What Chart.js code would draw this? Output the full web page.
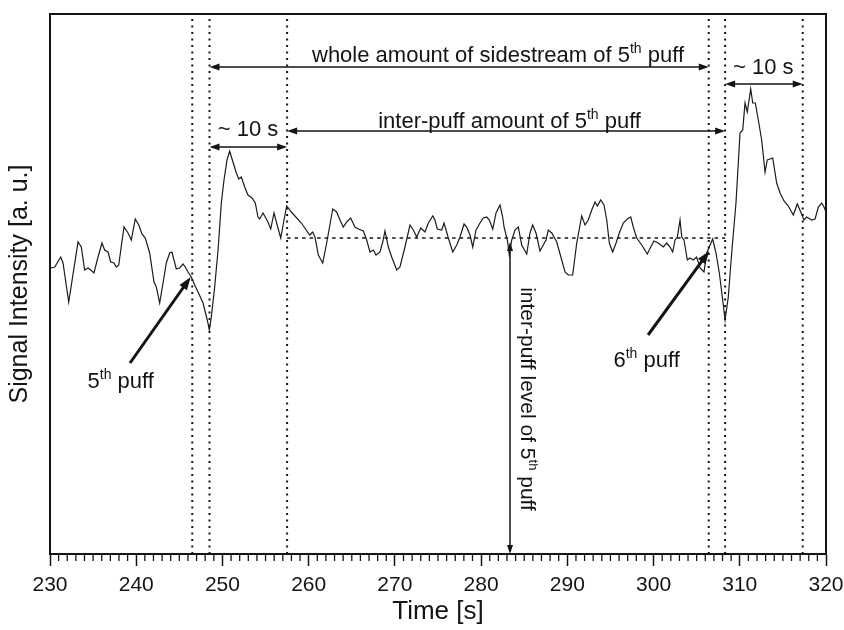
<!DOCTYPE html>
<html>
<head>
<meta charset="utf-8">
<style>
  html, body { margin: 0; padding: 0; background: #fff; }
  canvas { display: block; }
</style>
<script src="https://cdn.jsdelivr.net/npm/chart.js@4.4.0/dist/chart.umd.min.js"></script>
</head>
<body>
<canvas id="c" width="844" height="630"></canvas>
<script>
// Time axis [s] and signal intensity [a. u.] of the sidestream trace
const times = [230.08,230.55,231.24,231.51,232.17,233.25,233.63,234.02,234.41,234.72,235.10,235.57,236.03,236.34,236.73,237.04,237.42,237.69,237.97,238.58,239.05,239.43,239.89,240.29,240.67,241.05,241.56,242.06,242.33,242.72,243.11,243.49,243.88,244.15,244.38,244.65,245.04,245.43,245.69,246.01,246.39,246.78,247.17,247.75,248.24,248.48,248.71,249.10,249.49,249.87,250.18,250.53,250.84,251.22,251.61,251.89,252.19,252.58,252.96,253.43,253.81,254.12,254.32,254.70,255.28,255.60,255.98,256.44,256.76,257.14,257.45,257.99,259.15,260.12,
  260.47,260.73,261.12,261.63,262.09,262.79,263.25,263.63,264.02,264.41,264.87,265.37,265.76,266.34,266.73,267.11,267.50,267.81,268.27,268.59,268.85,269.24,269.63,270.21,270.59,271.17,271.75,272.14,272.53,272.99,273.49,273.88,274.39,274.65,274.92,275.43,275.70,276.20,276.71,277.17,277.55,278.02,278.33,278.71,279.03,279.41,279.87,280.25,280.65,280.95,281.35,281.73,282.19,282.50,282.66,283.04,283.27,283.55,283.93,284.31,284.71,285.29,285.67,285.98,286.37,286.83,287.21,287.53,287.79,288.19,288.77,289.35,289.73,290.11,
  290.62,291.09,291.67,292.05,292.43,292.83,293.21,293.48,293.87,294.25,294.57,294.87,295.26,295.65,296.03,296.49,296.96,297.35,297.65,298.05,298.63,299.28,299.67,300.05,300.55,301.13,301.53,301.91,302.22,302.49,302.76,303.07,303.27,303.53,303.92,304.23,304.61,305.00,305.39,305.85,306.16,306.86,307.24,307.63,308.02,308.29,308.67,309.06,309.56,310.03,310.34,310.61,310.87,311.27,311.50,311.80,312.15,312.54,312.93,313.19,313.82,314.28,314.67,315.13,315.63,316.21,316.67,317.07,317.45,317.76,318.34,318.73,319.11,319.50,319.77,320.00];

const signal = [286,287,297,291,252,312,307,284,286,284,281,297,311,304,302,292,291,287,289,327,321,314,335,329,320,316,301,272,267,251,271,291,301,302,294,285,286,290,287,282,277,269,262,251,234,224,237,267,304,351,374,394,403,392,381,375,377,367,359,356,351,337,335,341,332,325,341,326,316,334,348,342,331,319,
  322,317,299,291,311,345,342,334,327,332,336,327,325,323,314,302,304,299,302,312,323,307,297,284,287,307,329,324,317,326,322,331,338,334,325,324,331,316,302,309,317,330,327,319,307,324,331,336,337,334,325,341,349,337,327,314,299,314,324,327,309,300,321,329,321,303,309,314,324,321,312,294,282,279,
  279,311,338,329,334,344,352,348,354,349,334,311,302,311,321,331,335,337,327,316,309,300,307,313,311,307,311,307,302,314,317,334,317,314,294,296,294,297,286,282,301,315,301,281,254,234,257,301,351,421,424,451,442,465,451,451,434,414,382,394,396,371,361,353,348,339,350,342,334,337,334,335,347,351,347,342];

// Puff boundary times [s] (dotted verticals)
const markerTimes = [246.5, 248.5, 257.5, 306.4, 308.3, 317.3];
// Inter-puff level and the interval it is averaged over
const interPuffLevel = 316;
const interPuffSpan = [257.5, 308.3];

const tickLabels = [230, 240, 250, 260, 270, 280, 290, 300, 310, 320];

const INK = '#141414';
const FAMILY = '"Liberation Sans", Arial, Helvetica, sans-serif';

// Text with optional superscript pieces, e.g. 5 + "th"
function richText(ctx, parts, x, y, size, align) {
  const base = size + 'px ' + FAMILY;
  const sup = Math.round(size * 0.62) + 'px ' + FAMILY;
  let total = 0;
  const widths = parts.map(p => {
    ctx.font = p.sup ? sup : base;
    const w = ctx.measureText(p.t).width;
    total += w;
    return w;
  });
  let cx = align === 'center' ? x - total / 2 : x;
  ctx.textAlign = 'left';
  ctx.textBaseline = 'alphabetic';
  parts.forEach((p, i) => {
    ctx.font = p.sup ? sup : base;
    ctx.fillText(p.t, cx, p.sup ? y - size * 0.42 : y);
    cx += widths[i];
  });
}

function arrow(ctx, x1, y1, x2, y2, o) {
  const w = o.w || 1.5, len = o.len || 10, half = o.half || 3.5;
  const start = !!o.start, end = o.end !== false;
  const dx = x2 - x1, dy = y2 - y1, L = Math.hypot(dx, dy);
  const ux = dx / L, uy = dy / L;
  let sx = x1, sy = y1, ex = x2, ey = y2;
  if (start) { sx += ux * len * 0.8; sy += uy * len * 0.8; }
  if (end) { ex -= ux * len * 0.8; ey -= uy * len * 0.8; }
  ctx.lineWidth = w;
  ctx.setLineDash([]);
  ctx.beginPath(); ctx.moveTo(sx, sy); ctx.lineTo(ex, ey); ctx.stroke();
  const head = (tx, ty, vx, vy) => {
    ctx.beginPath();
    ctx.moveTo(tx, ty);
    ctx.lineTo(tx - vx * len - vy * half, ty - vy * len + vx * half);
    ctx.lineTo(tx - vx * len + vy * half, ty - vy * len - vx * half);
    ctx.closePath();
    ctx.fill();
  };
  if (end) head(x2, y2, ux, uy);
  if (start) head(x1, y1, -ux, -uy);
}

const annotations = {
  id: 'annotations',
  afterDatasetsDraw(chart) {
    const { ctx, chartArea: a, scales: { x, y } } = chart;
    const X = v => x.getPixelForValue(v);
    const Y = v => y.getPixelForValue(v);
    ctx.save();
    ctx.strokeStyle = INK;
    ctx.fillStyle = INK;

    // top and right frame
    ctx.lineWidth = 2;
    ctx.beginPath();
    ctx.moveTo(a.left - 1, a.top);
    ctx.lineTo(a.right, a.top);
    ctx.lineTo(a.right, a.bottom);
    ctx.stroke();

    // minor ticks every second
    ctx.lineWidth = 1.3;
    ctx.beginPath();
    for (let t = 231; t < 320; t++) {
      if (t % 10 === 0) continue;
      const px = X(t);
      ctx.moveTo(px, a.bottom);
      ctx.lineTo(px, a.bottom + 7);
    }
    ctx.stroke();

    // span arrows
    arrow(ctx, X(248.5), Y(487), X(306.4), Y(487), { start: true });
    arrow(ctx, X(257.5), Y(423), X(308.3), Y(423), { start: true });
    arrow(ctx, X(248.5), Y(407), X(257.5), Y(407), { start: true });
    arrow(ctx, X(308.3), Y(470), X(317.3), Y(470), { start: true });
    // inter-puff level arrow
    arrow(ctx, X(283.35), Y(312), X(283.35), Y(0), { start: true, len: 9, half: 3 });
    // puff pointers
    arrow(ctx, X(239.28), Y(191), X(246.32), Y(277), { w: 3, len: 13, half: 4.5 });
    arrow(ctx, X(299.36), Y(219), X(306.47), Y(303), { w: 3, len: 13, half: 4.5 });

    const S = 22;
    richText(ctx, [{ t: 'whole amount of sidestream of 5' }, { t: 'th', sup: true }, { t: ' puff' }], X(281.96), Y(492), S, 'center');
    richText(ctx, [{ t: 'inter-puff amount of 5' }, { t: 'th', sup: true }, { t: ' puff' }], X(283.3), Y(426), S, 'center');
    richText(ctx, [{ t: '~ 10 s' }], X(252.96), Y(418), S, 'center');
    richText(ctx, [{ t: '~ 10 s' }], X(312.73), Y(480), S, 'center');
    richText(ctx, [{ t: '5' }, { t: 'th', sup: true }, { t: ' puff' }], X(238.2), Y(166), S, 'center');
    richText(ctx, [{ t: '6' }, { t: 'th', sup: true }, { t: ' puff' }], X(299.2), Y(187), S, 'center');

    ctx.save();
    ctx.translate(X(284.57), Y(155));
    ctx.rotate(Math.PI / 2);
    richText(ctx, [{ t: 'inter-puff level of 5' }, { t: 'th', sup: true }, { t: ' puff' }], 0, 0, 21, 'center');
    ctx.restore();

    ctx.restore();
  }
};

const markerSets = markerTimes.map(t => ({
  data: [{ x: t, y: 0 }, { x: t, y: 540 }],
  borderColor: INK,
  borderWidth: 2,
  borderDash: [2, 4.5],
  pointRadius: 0,
  fill: false
}));

const levelSet = {
  data: interPuffSpan.map(t => ({ x: t, y: interPuffLevel })),
  borderColor: INK,
  borderWidth: 1.5,
  borderDash: [3.5, 4],
  pointRadius: 0,
  fill: false
};

const signalSet = {
  data: times.map((t, i) => ({ x: t, y: signal[i] })),
  borderColor: '#1c1c1c',
  borderWidth: 1.2,
  pointRadius: 0,
  tension: 0,
  fill: false
};

new Chart(document.getElementById('c'), {
  type: 'line',
  data: { datasets: [signalSet, levelSet, ...markerSets] },
  options: {
    responsive: false,
    animation: false,
    devicePixelRatio: 1,
    layout: { padding: { top: 14, right: 18, left: 0, bottom: 0 } },
    plugins: { legend: { display: false }, tooltip: { enabled: false } },
    scales: {
      x: {
        type: 'linear',
        min: 230,
        max: 320,
        afterBuildTicks: s => { s.ticks = tickLabels.map(v => ({ value: v })); },
        ticks: { font: { size: 21, family: FAMILY }, color: INK, padding: 7, maxRotation: 0, autoSkip: false },
        grid: { display: true, drawOnChartArea: false, drawTicks: true, tickLength: 12, tickWidth: 1.5, tickColor: INK },
        border: { display: true, color: INK, width: 2 },
        title: { display: true, text: 'Time [s]', font: { size: 26, family: FAMILY }, color: INK, padding: { top: 0, bottom: 3 } },
        afterFit: s => { s.height = 76; s.paddingLeft = 0; s.paddingRight = 0; }
      },
      y: {
        min: 0,
        max: 540,
        ticks: { display: false },
        grid: { display: false },
        border: { display: true, color: INK, width: 2 },
        title: { display: true, text: 'Signal Intensity [a. u.]', font: { size: 25, family: FAMILY }, color: INK, padding: { top: 5, bottom: 0 } },
        afterFit: s => { s.width = 50; s.paddingTop = 0; s.paddingBottom = 0; }
      }
    }
  },
  plugins: [annotations]
});
</script>
</body>
</html>
